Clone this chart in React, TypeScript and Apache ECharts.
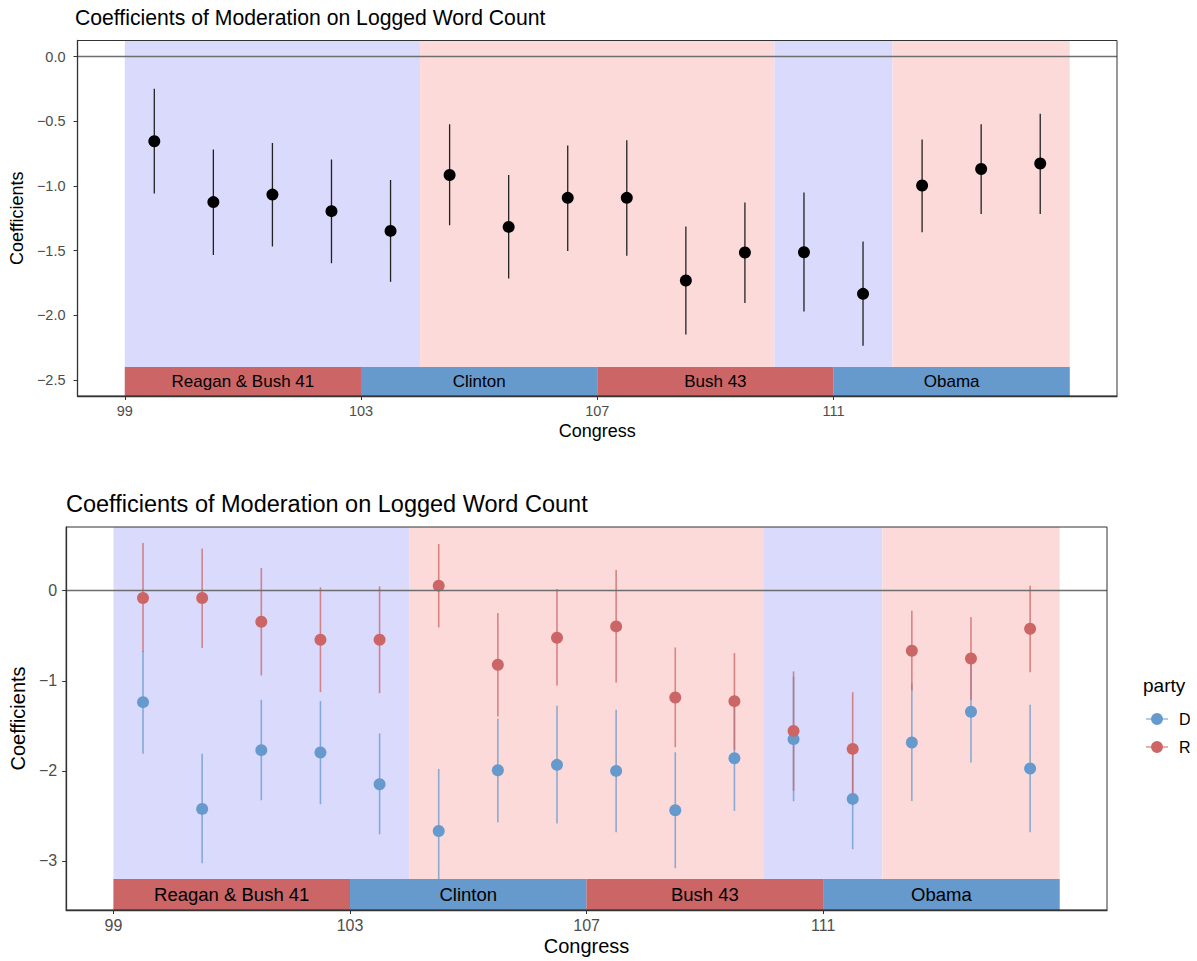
import React, { useEffect, useRef } from "react";
import * as echarts from "echarts";

// ---------- data ----------
const congress = [99, 100, 101, 102, 103, 104, 105, 106, 107, 108, 109, 110, 111, 112, 113, 114];

// top panel: pooled coefficients
const pooledCoef = [-0.654, -1.125, -1.067, -1.195, -1.348, -0.915, -1.317, -1.092, -1.092, -1.732, -1.515, -1.513, -1.835, -0.997, -0.869, -0.826];
const pooledLo = [-1.059, -1.534, -1.469, -1.598, -1.742, -1.304, -1.716, -1.503, -1.541, -2.149, -1.905, -1.972, -2.237, -1.358, -1.217, -1.217];
const pooledHi = [-0.249, -0.718, -0.667, -0.795, -0.954, -0.523, -0.915, -0.687, -0.646, -1.314, -1.128, -1.051, -1.43, -0.641, -0.523, -0.441];

// bottom panel: by party
const demCoef = [-1.237, -2.422, -1.77, -1.796, -2.148, -2.667, -1.993, -1.933, -2.0, -2.437, -1.859, -1.648, -2.311, -1.685, -1.344, -1.974];
const demLo = [-1.811, -3.026, -2.326, -2.37, -2.704, -3.356, -2.57, -2.585, -2.681, -3.081, -2.444, -2.337, -2.87, -2.333, -1.907, -2.681];
const demHi = [-0.67, -1.811, -1.211, -1.226, -1.585, -1.978, -1.422, -1.278, -1.322, -1.793, -1.274, -0.952, -1.752, -1.026, -0.781, -1.267];

const repCoef = [-0.081, -0.081, -0.344, -0.544, -0.544, 0.056, -0.822, -0.522, -0.396, -1.185, -1.226, -1.556, -1.756, -0.667, -0.752, -0.422];
const repLo = [-0.681, -0.637, -0.941, -1.126, -1.137, -0.407, -1.396, -1.052, -1.019, -1.737, -1.77, -2.219, -2.38, -1.107, -1.211, -0.904];
const repHi = [0.53, 0.467, 0.252, 0.037, 0.048, 0.519, -0.248, 0.019, 0.23, -0.63, -0.693, -0.896, -1.126, -0.222, -0.293, 0.056];

// congressional control shading
const controlStart = [99, 104, 110, 112];
const controlEnd = [104, 110, 112, 115];
const controlParty = ["D", "R", "D", "R"];

// presidencies
const presNames = ["Reagan & Bush 41", "Clinton", "Bush 43", "Obama"];
const presStart = [99, 103, 107, 111];
const presEnd = [103, 107, 111, 115];
const presParty = ["R", "D", "R", "D"];

const xTicks = [99, 103, 107, 111];
const topYTicks = [-2.5, -2, -1.5, -1, -0.5, 0];
const bottomYTicks = [-3, -2, -1, 0];

const partyNames = ["D", "R"];

// ---------- style ----------
const FONT = "'Liberation Sans', Arial, Helvetica, sans-serif";
const RED = "#CC6666";
const BLUE = "#6699CC";
const SHADE: Record<string, string> = { D: "#DADAFD", R: "#FDDADA" };
const PARTY_COLOR: Record<string, string> = { D: BLUE, R: RED };

const minusFmt = (digits: number) => (v: number) =>
  (v < -1e-9 ? "\u2212" : "") + Math.abs(v).toFixed(digits);

function bgSeries(gi: number) {
  return {
    type: "custom",
    xAxisIndex: gi,
    yAxisIndex: gi,
    silent: true,
    clip: true,
    z: 1,
    data: controlStart.map((s, i) => [s, controlEnd[i]]),
    encode: { x: [0, 1] },
    renderItem: (params: any, api: any) => {
      const cs = params.coordSys;
      const x0 = api.coord([api.value(0), 0])[0];
      const x1 = api.coord([api.value(1), 0])[0];
      return {
        type: "rect",
        shape: { x: x0, y: cs.y, width: x1 - x0, height: cs.height },
        style: { fill: SHADE[controlParty[params.dataIndex]] },
      };
    },
  };
}

function presSeries(gi: number, top: number, fontSize: number) {
  return {
    type: "custom",
    xAxisIndex: gi,
    yAxisIndex: gi,
    silent: true,
    clip: true,
    z: 6,
    data: presStart.map((s, i) => [s, presEnd[i], top]),
    encode: { x: [0, 1], y: 2 },
    renderItem: (params: any, api: any) => {
      const cs = params.coordSys;
      const i = params.dataIndex;
      const x0 = api.coord([api.value(0), api.value(2)])[0];
      const p1 = api.coord([api.value(1), api.value(2)]);
      const x1 = p1[0];
      const yTop = p1[1];
      const yBot = cs.y + cs.height;
      return {
        type: "group",
        children: [
          {
            type: "rect",
            shape: { x: x0, y: yTop, width: x1 - x0, height: yBot - yTop },
            style: { fill: PARTY_COLOR[presParty[i]] },
          },
          {
            type: "text",
            x: (x0 + x1) / 2,
            y: (yTop + yBot) / 2,
            style: {
              text: presNames[i],
              fill: "#000",
              fontSize,
              fontFamily: FONT,
              align: "center",
              verticalAlign: "middle",
            },
          },
        ],
      };
    },
  };
}

function errSeries(
  gi: number,
  lo: number[],
  hi: number[],
  color: string,
  opacity: number,
  width: number,
  z: number,
  withZeroLine: boolean
) {
  const s: any = {
    type: "custom",
    xAxisIndex: gi,
    yAxisIndex: gi,
    silent: true,
    clip: true,
    z,
    // points sit at the centre of each congress
    data: congress.map((c, i) => [c + 0.5, lo[i], hi[i]]),
    encode: { x: 0, y: [1, 2] },
    renderItem: (params: any, api: any) => {
      const p0 = api.coord([api.value(0), api.value(1)]);
      const p1 = api.coord([api.value(0), api.value(2)]);
      return {
        type: "line",
        shape: { x1: p0[0], y1: p0[1], x2: p1[0], y2: p1[1] },
        style: { stroke: color, lineWidth: width, opacity },
      };
    },
  };
  if (withZeroLine) {
    s.markLine = {
      silent: true,
      symbol: "none",
      label: { show: false },
      lineStyle: { color: "#6E6E6E", width: 1.4, type: "solid" },
      data: [{ yAxis: 0 }],
    };
  }
  return s;
}

function pointSeries(gi: number, name: string | undefined, coef: number[], color: string, z: number) {
  return {
    type: "scatter",
    name,
    xAxisIndex: gi,
    yAxisIndex: gi,
    z,
    symbol: "circle",
    symbolSize: 12,
    itemStyle: { color, opacity: 1 },
    data: congress.map((c, i) => [c + 0.5, coef[i]]),
  };
}

function xAxis(gi: number, labelSize: number, nameSize: number, nameGap: number) {
  return {
    gridIndex: gi,
    type: "value",
    min: 98.2,
    max: 115.8,
    name: "Congress",
    nameLocation: "middle",
    nameGap,
    nameTextStyle: { fontSize: nameSize, color: "#000", fontFamily: FONT },
    splitLine: { show: false },
    z: 10,
    axisLine: { onZero: false, lineStyle: { color: "#333", width: 1.3 } },
    axisTick: { customValues: xTicks, length: 4, lineStyle: { color: "#333", width: 1 } },
    axisLabel: { customValues: xTicks, fontSize: labelSize, color: "#4D4D4D", margin: 7, fontFamily: FONT },
  };
}

function yAxis(
  gi: number,
  min: number,
  max: number,
  ticks: number[],
  digits: number,
  labelSize: number,
  nameSize: number,
  nameGap: number,
  labelMargin: number
) {
  return {
    gridIndex: gi,
    type: "value",
    min,
    max,
    name: "Coefficients",
    nameLocation: "middle",
    nameGap,
    nameTextStyle: { fontSize: nameSize, color: "#000", fontFamily: FONT },
    splitLine: { show: false },
    z: 10,
    axisLine: { onZero: false, lineStyle: { color: "#333", width: 1.3 } },
    axisTick: { customValues: ticks, length: 4, lineStyle: { color: "#333", width: 1 } },
    axisLabel: {
      customValues: ticks,
      fontSize: labelSize,
      color: "#4D4D4D",
      margin: labelMargin,
      fontFamily: FONT,
      formatter: minusFmt(digits),
    },
  };
}

const option: any = {
  animation: false,
  backgroundColor: "#fff",
  textStyle: { fontFamily: FONT },
  title: [
    {
      text: "Coefficients of Moderation on Logged Word Count",
      left: 75,
      top: 7,
      padding: 0,
      textStyle: { fontSize: 21.2, fontWeight: "normal", color: "#000", fontFamily: FONT },
    },
    {
      text: "Coefficients of Moderation on Logged Word Count",
      left: 66,
      top: 492,
      padding: 0,
      textStyle: { fontSize: 23.5, fontWeight: "normal", color: "#000", fontFamily: FONT },
    },
    {
      text: "party",
      left: 1143,
      top: 676,
      padding: 0,
      textStyle: { fontSize: 19, fontWeight: "normal", color: "#000", fontFamily: FONT },
    },
  ],
  legend: {
    data: partyNames,
    orient: "vertical",
    left: 1146,
    top: 711,
    padding: 0,
    itemWidth: 22,
    itemHeight: 12,
    itemGap: 12,
    icon: "path://M0,5.4h22v1.2H0z M17,6a6,6 0 1,1 -12,0a6,6 0 1,1 12,0z",
    textStyle: { fontSize: 16, color: "#000", fontFamily: FONT, padding: [0, 0, 0, 6] },
    selectedMode: false,
  },
  grid: [
    { left: 75, top: 40.5, width: 1042, height: 355.5, show: true, z: 10, borderColor: "#333", borderWidth: 1, backgroundColor: "transparent" },
    { left: 66, top: 527, width: 1041, height: 383, show: true, z: 10, borderColor: "#333", borderWidth: 1, backgroundColor: "transparent" },
  ],
  xAxis: [xAxis(0, 14.5, 18, 26), xAxis(1, 16, 20, 26)],
  yAxis: [
    yAxis(0, -2.625, 0.125, topYTicks, 1, 14.5, 18, 46, 12),
    yAxis(1, -3.544, 0.707, bottomYTicks, 0, 16, 20, 35, 9),
  ],
  series: [
    // top panel
    bgSeries(0),
    errSeries(0, pooledLo, pooledHi, "#222", 1, 1.3, 2, true),
    pointSeries(0, undefined, pooledCoef, "#000", 3),
    presSeries(0, -2.4, 17),
    // bottom panel
    bgSeries(1),
    errSeries(1, demLo, demHi, BLUE, 0.75, 1.6, 2, true),
    errSeries(1, repLo, repHi, RED, 0.75, 1.6, 2, false),
    pointSeries(1, "D", demCoef, BLUE, 3),
    pointSeries(1, "R", repCoef, RED, 4),
    presSeries(1, -3.2, 18.5),
  ],
};

export default function App() {
  const ref = useRef<HTMLDivElement>(null);
  useEffect(() => {
    document.body.style.margin = "0";
    const chart = echarts.init(ref.current!, null, { renderer: "svg" });
    chart.setOption(option);
    return () => chart.dispose();
  }, []);
  return <div ref={ref} style={{ width: 1197, height: 961 }} />;
}
